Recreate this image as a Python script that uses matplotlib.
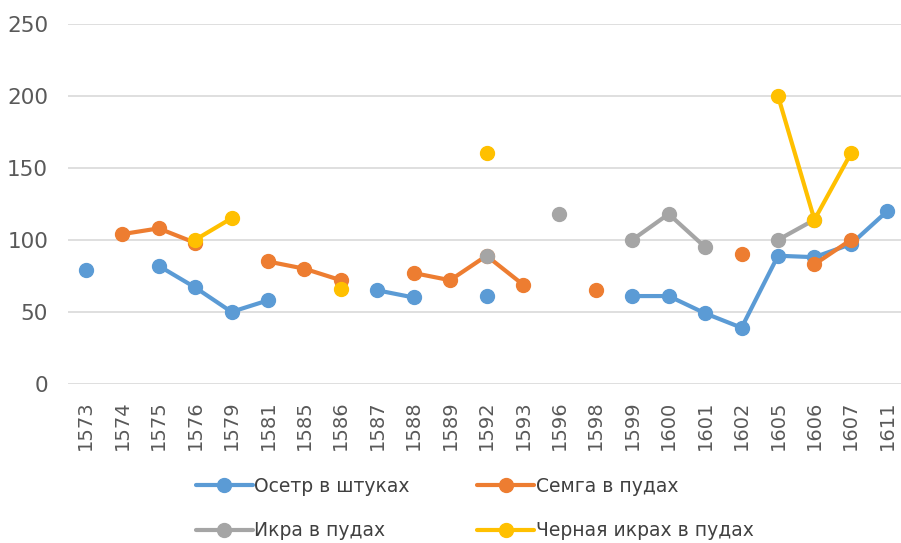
import numpy as np
import matplotlib
matplotlib.use("Agg")
import matplotlib.pyplot as plt

nan = np.nan
years = ["1573", "1574", "1575", "1576", "1579", "1581", "1585", "1586", "1587", "1588",
         "1589", "1592", "1593", "1596", "1598", "1599", "1600", "1601", "1602", "1605",
         "1606", "1607", "1611"]
osetr = [79, nan, 82, 67, 50, 58, nan, nan, 65, 60,
         nan, 61, nan, nan, nan, 61, 61, 49, 39, 89,
         88, 97, 120]
semga = [nan, 104, 108, 98, nan, 85, 80, 72, nan, 77,
         72, 89, 69, nan, 65, nan, nan, nan, 90, nan,
         83, 100, nan]
ikra = [nan, nan, nan, nan, nan, nan, nan, nan, nan, nan,
        nan, 89, nan, 118, nan, 100, 118, 95, nan, 100,
        114, nan, nan]
chernaya = [nan, nan, nan, 100, 115, nan, nan, 66, nan, nan,
            nan, 160, nan, nan, nan, nan, nan, nan, nan, 200,
            114, 160, nan]

names = ["Осетр в штуках", "Семга в пудах", "Икра в пудах", "Черная икрах в пудах"]
series = [osetr, semga, ikra, chernaya]
colors = ["#5B9BD5", "#ED7D31", "#A5A5A5", "#FFC000"]

plt.rcParams['font.family'] = ['DejaVu Sans']
fig = plt.figure(figsize=(9.01, 5.43), dpi=100)
ax = fig.add_axes([0.075, 0.293, 0.93, 0.663])

x = np.arange(len(years))
handles = []
for name, vals, c in zip(names, series, colors):
    h, = ax.plot(x, np.array(vals, dtype=float), color=c, lw=3, marker='o', ms=10,
                 label=name, solid_capstyle='round')
    handles.append(h)

ax.set_ylim(0, 250)
ax.set_yticks([0, 50, 100, 150, 200, 250])
ax.set_xlim(-0.5, len(years) - 0.5)
ax.set_xticks(x)
ax.set_xticklabels(years, rotation=90)
ax.tick_params(axis='both', length=0, colors='#595959')
ax.tick_params(axis='x', pad=12, labelsize=14)
ax.tick_params(axis='y', pad=14, labelsize=15.5)
ax.grid(axis='y', color='#d9d9d9', lw=1.2)
ax.set_axisbelow(True)
for s in ax.spines.values():
    s.set_visible(False)

# legend order: row 1 = Осетр, Семга ; row 2 = Икра, Черная (column-major fill)
order = [0, 2, 1, 3]
leg = fig.legend([handles[i] for i in order], [names[i] for i in order],
                 loc='lower center', bbox_to_anchor=(0.527, -0.026), ncol=2, frameon=False,
                 fontsize=13.5, handlelength=3.0, columnspacing=3.6, handletextpad=0.1,
                 labelspacing=1.35)
for t in leg.get_texts():
    t.set_color('#404040')

fig.savefig("out.png", dpi=100)
